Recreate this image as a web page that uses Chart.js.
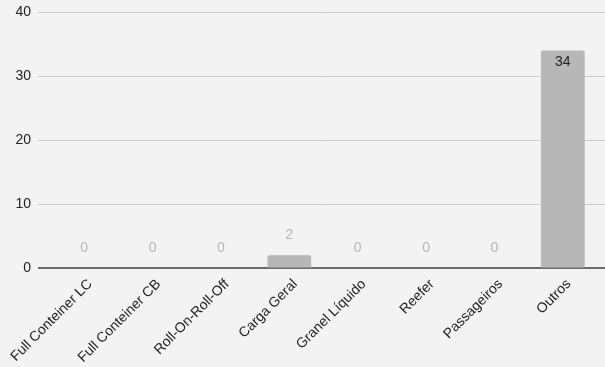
<!DOCTYPE html>
<html>
<head>
<meta charset="utf-8">
<script src="https://cdn.jsdelivr.net/npm/chart.js@4"></script>
<style>
  html, body { margin: 0; padding: 0; background: #f3f3f3; }
  #wrap { width: 605px; height: 367px; }
</style>
</head>
<body>
<div id="wrap"><canvas id="chart"></canvas></div>
<script>
const categories = ['Full Conteiner LC', 'Full Conteiner CB', 'Roll-On-Roll-Off', 'Carga Geral',
    'Granel Líquido', 'Reefer', 'Passageiros', 'Outros'];
const values = [0, 0, 0, 2, 0, 0, 0, 34];
const yTicks = [0, 10, 20, 30, 40];

// grade estendida alem da area das barras
const gridPlugin = {
    id: 'wideGrid',
    beforeDatasetsDraw(chart) {
        const { ctx, scales: { y } } = chart;
        ctx.save();
        yTicks.forEach(v => {
            const py = Math.round(y.getPixelForValue(v));
            ctx.beginPath();
            if (v === 0) {
                ctx.strokeStyle = '#6b6b6b';
                ctx.lineWidth = 2;
            } else {
                ctx.strokeStyle = '#cccccc';
                ctx.lineWidth = 1;
                ctx.translate(0, 0.5);
            }
            ctx.moveTo(38, py);
            ctx.lineTo(605, py);
            ctx.stroke();
            ctx.setTransform(1, 0, 0, 1, 0, 0);
        });
        ctx.restore();
    }
};

// rotulos de valor
const labelPlugin = {
    id: 'valueLabels',
    afterDatasetsDraw(chart) {
        const { ctx } = chart;
        const meta = chart.getDatasetMeta(0);
        ctx.save();
        ctx.font = '14px "Liberation Sans", Arial, sans-serif';
        ctx.textAlign = 'center';
        ctx.textBaseline = 'middle';
        meta.data.forEach((bar, i) => {
            const v = values[i];
            if (v > 10) {
                ctx.fillStyle = '#222222';
                ctx.fillText(String(v), bar.x, bar.y + 12);
            } else {
                ctx.fillStyle = '#b7b7b7';
                ctx.fillText(String(v), bar.x, bar.y - 20);
            }
        });
        ctx.restore();
    }
};

new Chart(document.getElementById('chart'), {
    type: 'bar',
    data: {
        labels: categories,
        datasets: [{
            data: values,
            backgroundColor: '#b7b7b7',
            borderRadius: 2,
            borderSkipped: 'bottom',
            barPercentage: 0.64,
            categoryPercentage: 1
        }]
    },
    options: {
        responsive: true,
        maintainAspectRatio: false,
        animation: false,
        layout: { padding: { top: 4, right: 8, left: 0, bottom: 0 } },
        plugins: {
            legend: { display: false },
            tooltip: { enabled: false }
        },
        scales: {
            x: {
                offset: true,
                grid: { display: false, drawTicks: false },
                border: { display: false },
                ticks: {
                    color: '#222222',
                    font: { family: '"Liberation Sans", Arial, sans-serif', size: 14 },
                    minRotation: 45,
                    maxRotation: 45,
                    autoSkip: false,
                    padding: 8,
                    labelOffset: 6
                },
                afterFit(scale) {
                    scale.height = 99;
                    scale.paddingLeft = 0;
                    scale.paddingRight = 0;
                }
            },
            y: {
                min: 0,
                max: 40,
                grid: {
                    display: true,
                    color: 'rgba(0,0,0,0)',
                    drawOnChartArea: false,
                    drawTicks: true,
                    tickLength: 15
                },
                border: { display: false },
                afterBuildTicks(scale) { scale.ticks = yTicks.map(v => ({ value: v })); },
                ticks: {
                    color: '#222222',
                    font: { family: '"Liberation Sans", Arial, sans-serif', size: 14 },
                    padding: 4
                },
                afterFit(scale) {
                    scale.width = 50;
                    scale.paddingTop = 12;
                    scale.paddingBottom = 0;
                }
            }
        }
    },
    plugins: [gridPlugin, labelPlugin]
});
</script>
</body>
</html>
